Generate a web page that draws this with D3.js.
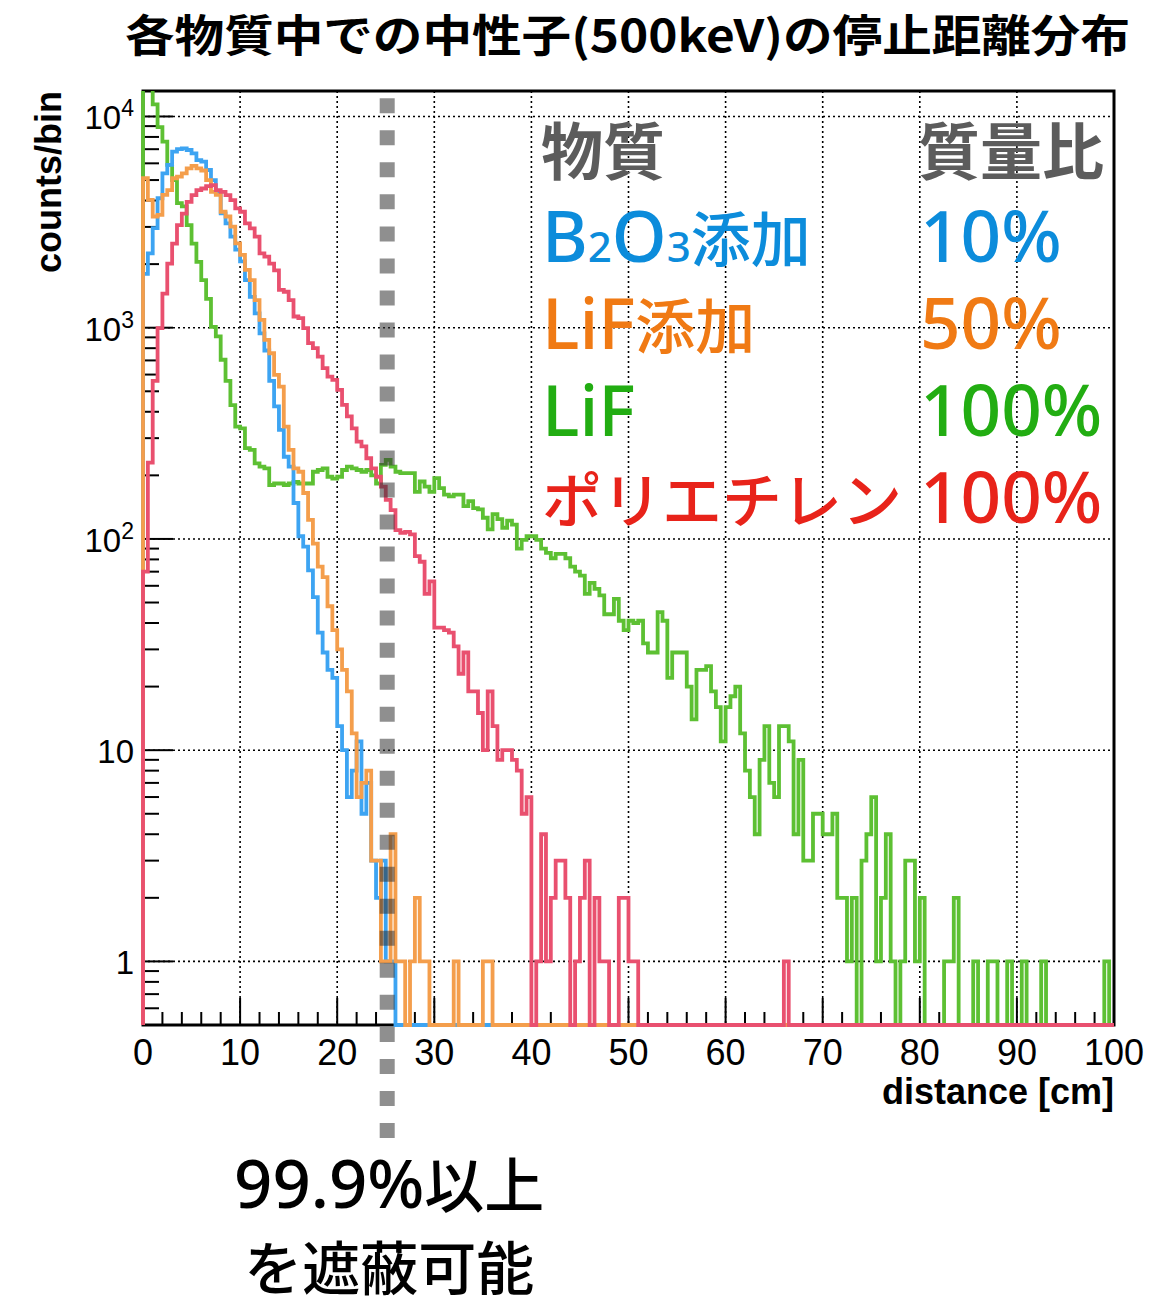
<!DOCTYPE html>
<meta charset="utf-8">
<style>
body { margin: 0; background: #fff; }
svg { display: block; }
.axis-title { font: bold 36px "Liberation Sans", Arial, sans-serif; fill: #000; }
.xtick-label { font: 36px "Liberation Sans", Arial, sans-serif; fill: #000; text-anchor: middle; }
.ytick-label { font: 33px "Liberation Sans", Arial, sans-serif; fill: #000; text-anchor: end; }
.grid line { stroke: #000; stroke-width: 1.6; stroke-dasharray: 2,3; }
.ticks line { stroke: #000; stroke-width: 2; }
.hist { fill: none; stroke-width: 3.8; stroke-linejoin: miter; }
</style>
<svg width="1165" height="1297"></svg>
<script src="https://d3js.org/d3.v7.min.js"></script>
<script>

var svg = d3.select("svg"),
    frame = {left: 143, right: 1114, top: 91, bottom: 1025};

// histogram binning (cm) and axis ranges
var binWidth = 0.5;
var xDomain = [0, 100];
var yDomain = [0.5, 13200];
var xMajorTicks = [0, 10, 20, 30, 40, 50, 60, 70, 80, 90, 100];
var yDecades = [1, 10, 100, 1000, 10000];
var cutDistance = 25.15;   // 99.9% line

// counts per 0.5 cm bin
var b2o3Counts = [
  1800, 2250, 2960, 4100, 5380, 5900, 6820, 7000, 7070, 6940,
  6690, 6220, 6110, 5580, 5000, 4330, 3480, 3120, 2700, 2340,
  2060, 1680, 1400, 1170, 940, 780, 560, 424, 328, 245,
  220, 148, 103, 92, 71, 53, 36, 29, 24, 22,
  13, 10, 6, 8, 11, 5, 7, 3, 2, 3,
  1, 1, 0, 0, 0, 0, 0, 0, 0, 0,
  0, 0, 0, 0, 0, 0, 0, 0, 0, 0,
  0, 0, 0, 0, 0, 0, 0, 0, 0, 0,
  0, 0, 0, 0, 0, 0, 0, 0, 0, 0,
  0, 0, 0, 0, 0, 0, 0, 0, 0, 0,
  0, 0, 0, 0, 0, 0, 0, 0, 0, 0,
  0, 0, 0, 0, 0, 0, 0, 0, 0, 0,
  0, 0, 0, 0, 0, 0, 0, 0, 0, 0,
  0, 0, 0, 0, 0, 0, 0, 0, 0, 0,
  0, 0, 0, 0, 0, 0, 0, 0, 0, 0,
  0, 0, 0, 0, 0, 0, 0, 0, 0, 0,
  0, 0, 0, 0, 0, 0, 0, 0, 0, 0,
  0, 0, 0, 0, 0, 0, 0, 0, 0, 0,
  0, 0, 0, 0, 0, 0, 0, 0, 0, 0,
  0, 0, 0, 0, 0, 0, 0, 0, 0, 0
];

var lifMixCounts = [
  5100, 4030, 3360, 3420, 4250, 4480, 5100, 5190, 5380, 5680,
  5830, 5680, 5550, 5000, 4400, 4250, 3540, 3360, 3010, 2510,
  2210, 1880, 1680, 1350, 1090, 875, 757, 598, 526, 340,
  264, 216, 208, 165, 123, 95, 74, 66, 48, 37,
  30, 24, 19, 12, 6, 7, 8, 3, 3, 1,
  1, 4, 1, 1, 0, 1, 2, 1, 1, 0,
  0, 0, 0, 0, 1, 0, 0, 0, 0, 0,
  1, 1, 0, 0, 0, 0, 0, 0, 0, 0,
  0, 0, 0, 0, 0, 0, 0, 0, 0, 0,
  0, 0, 0, 0, 0, 0, 0, 0, 0, 0,
  0, 0, 0, 0, 0, 0, 0, 0, 0, 0,
  0, 0, 0, 0, 0, 0, 0, 0, 0, 0,
  0, 0, 0, 0, 0, 0, 0, 0, 0, 0,
  0, 0, 0, 0, 0, 0, 0, 0, 0, 0,
  0, 0, 0, 0, 0, 0, 0, 0, 0, 0,
  0, 0, 0, 0, 0, 0, 0, 0, 0, 0,
  0, 0, 0, 0, 0, 0, 0, 0, 0, 0,
  0, 0, 0, 0, 0, 0, 0, 0, 0, 0,
  0, 0, 0, 0, 0, 0, 0, 0, 0, 0,
  0, 0, 0, 0, 0, 0, 0, 0, 0, 0
];

var lifCounts = [
  16000, 14000, 11400, 8900, 7600, 5900, 5000, 3890, 3750, 3060,
  2500, 2050, 1680, 1370, 1010, 910, 705, 560, 430, 340,
  334, 269, 264, 228, 220, 216, 180, 183, 183, 180,
  183, 186, 183, 183, 183, 208, 212, 216, 197, 193,
  197, 212, 220, 216, 212, 208, 212, 200, 183, 224,
  237, 220, 208, 205, 205, 205, 167, 187, 177, 167,
  194, 174, 162, 159, 162, 162, 143, 151, 140, 138,
  126, 111, 131, 124, 113, 122, 117, 90, 99, 103,
  103, 99, 90, 86, 81, 85, 85, 81, 74, 70,
  67, 55, 62, 58, 54, 44, 44, 52, 41, 37,
  41, 40, 41, 32, 29, 29, 45, 41, 22, 29,
  29, 29, 20, 14, 24, 24, 25, 19, 16, 11,
  16, 18, 20, 12, 8, 6, 4, 9, 13, 7,
  6, 13, 13, 11, 4, 9, 3, 3, 5, 5,
  4, 4, 5, 2, 2, 1, 2, 0, 3, 4,
  6, 1, 2, 4, 1, 0, 1, 3, 3, 1,
  2, 0, 0, 0, 0, 1, 1, 2, 0, 0,
  0, 1, 0, 0, 1, 1, 0, 0, 1, 0,
  0, 1, 0, 0, 0, 1, 0, 0, 0, 0,
  0, 0, 0, 0, 0, 0, 0, 0, 1, 0
];

var polyCounts = [
  70, 230, 560, 995, 1450, 2010, 2500, 3060, 3470, 3940,
  4240, 4480, 4560, 4680, 4730, 4480, 4400, 4240, 4020, 3670,
  3540, 3120, 2950, 2700, 2250, 2170, 2010, 1870, 1510, 1480,
  1350, 1130, 1110, 995, 845, 800, 730, 643, 587, 566,
  508, 431, 380, 334, 289, 274, 241, 216, 197, 177,
  153, 137, 110, 107, 108, 105, 83, 78, 55, 63,
  38, 38, 37, 36, 31, 23, 29, 19, 19, 15,
  10, 19, 13, 9, 10, 10, 9, 8, 5, 6,
  0, 1, 4, 1, 2, 3, 3, 2, 0, 1,
  2, 3, 0, 2, 1, 1, 0, 0, 2, 2,
  1, 1, 0, 0, 0, 0, 0, 0, 0, 0,
  0, 0, 0, 0, 0, 0, 0, 0, 0, 0,
  0, 0, 0, 0, 0, 0, 0, 0, 0, 0,
  0, 0, 1, 0, 0, 0, 0, 0, 0, 0,
  0, 0, 0, 0, 0, 0, 0, 0, 0, 0,
  0, 0, 0, 0, 0, 0, 0, 0, 0, 0,
  0, 0, 0, 0, 0, 0, 0, 0, 0, 0,
  0, 0, 0, 0, 0, 0, 0, 0, 0, 0,
  0, 0, 0, 0, 0, 0, 0, 0, 0, 0,
  0, 0, 0, 0, 0, 0, 0, 0, 0, 0
];

// legend table
var legendHeader = ["物質", "質量比"];
var legendNames = ["B2O3添加", "LiF添加", "LiF", "ポリエチレン"];
var legendRatios = ["10%", "50%", "100%", "100%"];
var legendColors = ["#0c8cdb", "#f07a14", "#22ad12", "#e8231a"];

// drawing order: LiF under, polyethylene on top
var series = [
  {counts: lifCounts, color: "#5dc033"},
  {counts: b2o3Counts, color: "#3da4f2"},
  {counts: lifMixCounts, color: "#f49e4c"},
  {counts: polyCounts, color: "#e9506f"}
];

var xScale = d3.scaleLinear()
    .domain(xDomain)
    .range([frame.left, frame.right]);

var yScale = d3.scaleLog()
    .domain(yDomain)
    .range([frame.bottom, frame.top]);

// title
svg.append("text")
    .attr("x", 125)
    .attr("y", 52)
    .attr("textLength", 1005)
    .attr("lengthAdjust", "spacingAndGlyphs")
    .style("font-family", "'Noto Sans CJK JP', sans-serif")
    .style("font-weight", 700)
    .style("font-size", "44px")
    .text("各物質中での中性子(500keV)の停止距離分布");

// grid
var grid = svg.append("g").attr("class", "grid");

grid.selectAll(".gx")
    .data(xMajorTicks.slice(1, -1))
  .enter().append("line")
    .attr("x1", function(d) { return xScale(d); })
    .attr("x2", function(d) { return xScale(d); })
    .attr("y1", frame.top)
    .attr("y2", frame.bottom);

grid.selectAll(".gy")
    .data(yDecades)
  .enter().append("line")
    .attr("x1", frame.left)
    .attr("x2", frame.right)
    .attr("y1", function(d) { return yScale(d); })
    .attr("y2", function(d) { return yScale(d); });

// frame
svg.append("rect")
    .attr("x", frame.left)
    .attr("y", frame.top)
    .attr("width", frame.right - frame.left)
    .attr("height", frame.bottom - frame.top)
    .attr("fill", "none")
    .attr("stroke", "#000")
    .attr("stroke-width", 3);

// ticks
var ticks = svg.append("g").attr("class", "ticks");

ticks.selectAll(".xt")
    .data(xScale.ticks(50))
  .enter().append("line")
    .attr("x1", function(d) { return xScale(d); })
    .attr("x2", function(d) { return xScale(d); })
    .attr("y1", frame.bottom)
    .attr("y2", function(d) { return frame.bottom - (d % 10 === 0 ? 27 : 13); });

ticks.selectAll(".yt")
    .data(yScale.ticks().filter(function(d) { return d > yDomain[0]; }))
  .enter().append("line")
    .attr("x1", frame.left)
    .attr("x2", function(d) {
      var isDecade = Math.abs(Math.log10(d) - Math.round(Math.log10(d))) < 1e-9;
      return frame.left + (isDecade ? 30 : 16);
    })
    .attr("y1", function(d) { return yScale(d); })
    .attr("y2", function(d) { return yScale(d); });

// tick labels
svg.append("g").selectAll("text")
    .data(xMajorTicks)
  .enter().append("text")
    .attr("class", "xtick-label")
    .attr("x", function(d) { return xScale(d); })
    .attr("y", 1065)
    .text(function(d) { return d; });

yDecades.forEach(function(v) {
  var e = Math.round(Math.log10(v));
  var t = svg.append("text")
      .attr("class", "ytick-label")
      .attr("x", 134)
      .attr("y", yScale(v) + 13);
  if (e < 2) {
    t.text(v);
  } else {
    t.append("tspan").text("10");
    t.append("tspan").attr("dy", -13).style("font-size", "23px").text(e);
  }
});

// axis titles
svg.append("text")
    .attr("class", "axis-title")
    .attr("x", frame.right)
    .attr("y", 1104)
    .attr("text-anchor", "end")
    .text("distance [cm]");

svg.append("text")
    .attr("class", "axis-title")
    .attr("transform", "rotate(-90)")
    .attr("x", -frame.top)
    .attr("y", 61)
    .attr("text-anchor", "end")
    .text("counts/bin");

// histograms
svg.append("clipPath")
    .attr("id", "plot-clip")
  .append("rect")
    .attr("x", frame.left - 3)
    .attr("y", frame.top)
    .attr("width", frame.right - frame.left + 6)
    .attr("height", frame.bottom - frame.top + 4);

var line = d3.line().curve(d3.curveStepAfter);

function histPoints(counts) {
  var pts = [[xScale(0), frame.bottom]];
  counts.forEach(function(c, i) {
    pts.push([xScale(i * binWidth), c > 0 ? yScale(c) : frame.bottom]);
  });
  var xEnd = xScale(counts.length * binWidth);
  pts.push([xEnd, pts[pts.length - 1][1]]);
  pts.push([xEnd, frame.bottom]);
  return pts;
}

svg.append("g")
    .attr("clip-path", "url(#plot-clip)")
  .selectAll("path")
    .data(series)
  .enter().append("path")
    .attr("class", "hist")
    .attr("stroke", function(d) { return d.color; })
    .attr("d", function(d) { return line(histPoints(d.counts)); });

// legend table
var cjkFont = "'Noto Sans CJK JP', sans-serif",
    latinFont = "'Noto Sans', 'Noto Sans CJK JP', sans-serif";

function addRuns(text, str, latinSize, cjkSize, subSize) {
  var runs = [];
  Array.from(str).forEach(function(ch) {
    var kind = /[\u3040-\u30ff\u4e00-\u9fff]/.test(ch) ? "cjk"
        : (subSize && /\d/.test(ch) ? "sub" : "latin");
    if (runs.length && runs[runs.length - 1].kind === kind) runs[runs.length - 1].s += ch;
    else runs.push({kind: kind, s: ch});
  });
  runs.forEach(function(r) {
    text.append("tspan")
        .style("font-family", r.kind === "cjk" ? cjkFont : latinFont)
        .style("font-size", (r.kind === "cjk" ? cjkSize : r.kind === "sub" ? subSize : latinSize) + "px")
        .text(r.s);
  });
}

var legendTop = 175, rowStep = 87, nameX = 542, ratioX = 920;

svg.append("text")
    .attr("x", nameX - 1)
    .attr("y", legendTop)
    .style("font-family", cjkFont)
    .style("font-weight", 700)
    .style("font-size", "62px")
    .style("fill", "#5c5c5c")
    .text(legendHeader[0]);

svg.append("text")
    .attr("x", ratioX - 2)
    .attr("y", legendTop)
    .style("font-family", cjkFont)
    .style("font-weight", 700)
    .style("font-size", "62px")
    .style("fill", "#5c5c5c")
    .text(legendHeader[1]);

legendNames.forEach(function(name, i) {
  var y = legendTop + rowStep * (i + 1);
  var t = svg.append("text")
      .attr("x", nameX)
      .attr("y", y)
      .style("font-weight", 500)
      .style("fill", legendColors[i]);
  addRuns(t, name, 70, 60, 42);

  var r = svg.append("text")
      .attr("x", ratioX)
      .attr("y", y)
      .style("font-weight", 500)
      .style("fill", legendColors[i]);
  addRuns(r, legendRatios[i], 71, 60);
});

// 99.9% cut line
svg.append("line")
    .attr("x1", xScale(cutDistance))
    .attr("x2", xScale(cutDistance))
    .attr("y1", 98.3)
    .attr("y2", 1140)
    .attr("stroke", "#333")
    .attr("stroke-opacity", 0.55)
    .attr("stroke-width", 15)
    .attr("stroke-dasharray", "15,17.02");

var note1 = svg.append("text")
    .attr("x", xScale(cutDistance) + 2)
    .attr("y", 1208)
    .attr("text-anchor", "middle")
    .style("font-weight", 500)
    .style("fill", "#000");
addRuns(note1, "99.9%以上", 67, 60);

var note2 = svg.append("text")
    .attr("x", xScale(cutDistance) + 2)
    .attr("y", 1290)
    .attr("text-anchor", "middle")
    .style("font-weight", 500)
    .style("fill", "#000");
addRuns(note2, "を遮蔽可能", 64, 58);

</script>
